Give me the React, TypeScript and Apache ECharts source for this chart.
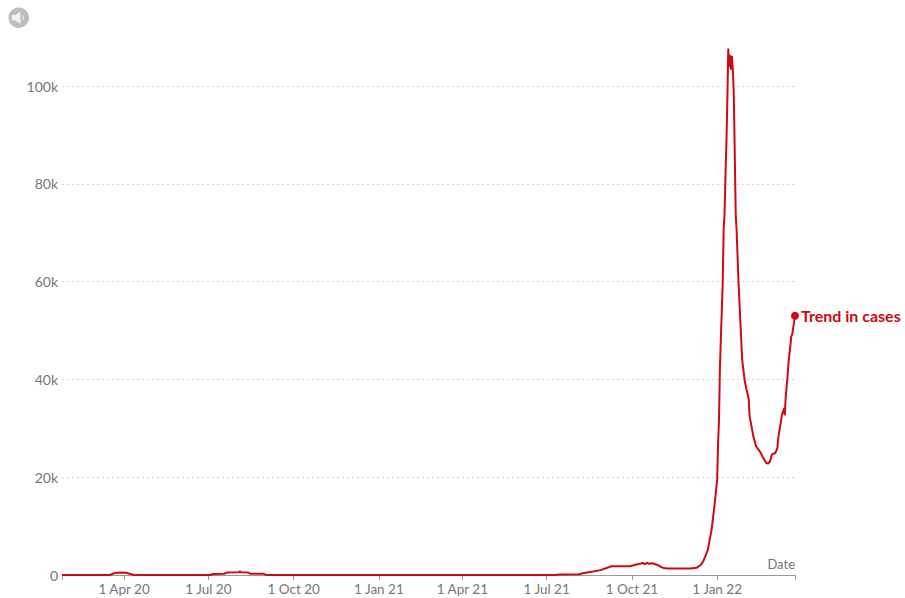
import React, { useEffect, useRef } from "react";
import * as echarts from "echarts";

const caseDates = [
  "2020-01-25", "2020-03-17", "2020-03-20", "2020-03-27", "2020-04-03", "2020-04-07", "2020-04-12",
  "2020-07-03", "2020-07-06", "2020-07-18", "2020-07-21", "2020-08-03", "2020-08-04", "2020-08-05",
  "2020-08-13", "2020-08-15", "2020-08-30", "2020-09-01",
  "2021-07-10", "2021-07-15", "2021-08-05", "2021-08-09", "2021-08-20", "2021-08-28", "2021-09-09", "2021-09-29",
  "2021-10-05", "2021-10-13", "2021-10-15", "2021-10-17", "2021-10-20", "2021-10-23", "2021-10-28",
  "2021-11-03", "2021-11-08", "2021-12-03", "2021-12-10", "2021-12-14", "2021-12-17", "2021-12-19",
  "2021-12-22", "2021-12-26", "2021-12-29",
  "2022-01-01", "2022-01-02", "2022-01-03", "2022-01-04", "2022-01-07", "2022-01-08", "2022-01-09",
  "2022-01-10", "2022-01-11", "2022-01-12", "2022-01-13", "2022-01-14", "2022-01-15", "2022-01-16",
  "2022-01-17", "2022-01-18", "2022-01-19", "2022-01-20", "2022-01-21", "2022-01-22", "2022-01-24",
  "2022-01-28", "2022-01-31", "2022-02-04", "2022-02-05", "2022-02-09", "2022-02-12", "2022-02-16",
  "2022-02-19", "2022-02-23", "2022-02-25", "2022-02-27", "2022-03-01", "2022-03-05", "2022-03-07",
  "2022-03-08", "2022-03-12", "2022-03-14", "2022-03-15", "2022-03-16", "2022-03-18", "2022-03-19",
  "2022-03-22", "2022-03-23", "2022-03-26",
];

const caseValues = [
  0, 0, 300, 500, 450, 250, 0,
  0, 200, 250, 500, 550, 750, 550,
  500, 250, 250, 0,
  0, 100, 150, 350, 700, 1000, 1800, 1800,
  2100, 2450, 2200, 2500, 2300, 2400, 2100,
  1500, 1350, 1350, 1500, 2000, 2800, 3700,
  5200, 9300, 14000,
  19500, 27000, 31800, 42600, 59800, 70700, 74000,
  82000, 88400, 97200, 107500, 104000, 106200, 103500,
  106000, 103000, 98000, 86000, 74000, 70500, 60000,
  44000, 39400, 36000, 32500, 28400, 26300, 25300,
  24200, 22900, 22800, 23200, 24600, 25000, 26000,
  28100, 32800, 34000, 32800, 36500, 40700, 43400,
  48800, 49200, 53000,
];

const tickDates = [
  "2020-04-01", "2020-07-01", "2020-10-01", "2021-01-01",
  "2021-04-01", "2021-07-01", "2021-10-01", "2022-01-01",
];
const tickLabels = [
  "1 Apr 20", "1 Jul 20", "1 Oct 20", "1 Jan 21",
  "1 Apr 21", "1 Jul 21", "1 Oct 21", "1 Jan 22",
];
const yTickLabels: Record<number, string> = {
  0: "0", 20000: "20k", 40000: "40k", 60000: "60k", 80000: "80k", 100000: "100k",
};

const seriesName = "Trend in cases";
const axisStart = "2020-01-25";
const axisEnd = "2022-03-26";

const FONT = "Lato, 'Noto Sans', sans-serif";
const RED = "#cc0a11";
const GREY_TEXT = "#767676";
const GREY_LINE = "#999999";

const toTime = (d: string) => new Date(d).getTime();

export default function App() {
  const ref = useRef<HTMLDivElement>(null);

  useEffect(() => {
    const chart = echarts.init(ref.current!, undefined, { renderer: "svg" });
    const points = caseDates.map((d, i) => [toTime(d), caseValues[i]]);
    const last = points[points.length - 1];
    const labelTimes = tickDates.map(toTime);

    chart.setOption({
      animation: false,
      textStyle: { fontFamily: FONT },
      grid: { left: 62, right: 110, top: 86, bottom: 23, containLabel: false },
      xAxis: {
        // Timestamps on a linear scale, so the ticks can sit on the quarter starts
        type: "value",
        min: toTime(axisStart),
        max: toTime(axisEnd),
        axisLine: { show: true, lineStyle: { color: GREY_LINE, width: 1 } },
        axisTick: {
          show: true,
          length: 5,
          lineStyle: { color: GREY_LINE, width: 1 },
          customValues: [toTime(axisStart), ...labelTimes, toTime(axisEnd)],
        },
        axisLabel: {
          show: true,
          customValues: labelTimes,
          formatter: (value: number) => tickLabels[labelTimes.indexOf(value)] ?? "",
          color: GREY_TEXT,
          fontFamily: FONT,
          fontSize: 13.5,
          margin: 7,
        },
        splitLine: { show: false },
      },
      yAxis: {
        type: "value",
        min: 0,
        max: 100000,
        interval: 20000,
        axisLine: { show: false },
        axisTick: { show: false },
        axisLabel: {
          formatter: (value: number) => yTickLabels[value] ?? "",
          color: GREY_TEXT,
          fontFamily: FONT,
          fontSize: 14,
          margin: 4,
        },
        splitLine: {
          show: true,
          lineStyle: { color: "#d4d4d4", type: [2, 3], width: 1 },
        },
      },
      series: [
        {
          name: seriesName,
          type: "line",
          data: points,
          symbol: "none",
          clip: false,
          lineStyle: { color: RED, width: 2, join: "round" },
          z: 3,
        },
        {
          name: seriesName,
          type: "scatter",
          data: [last],
          symbol: "circle",
          symbolSize: 8,
          clip: false,
          itemStyle: { color: RED, opacity: 1 },
          label: {
            show: true,
            position: "right",
            distance: 2,
            formatter: seriesName,
            color: RED,
            opacity: 1,
            fontFamily: FONT,
            fontWeight: "bold",
            fontSize: 16,
          },
          z: 4,
        },
      ],
      graphic: [
        {
          type: "text",
          x: 795,
          y: 564,
          style: {
            text: "Date",
            fill: GREY_TEXT,
            font: `13px ${FONT}`,
            textAlign: "right",
            textVerticalAlign: "middle",
          },
        },
        // Sound toggle in the top-left corner
        {
          type: "group",
          children: [
            { type: "circle", shape: { cx: 18.7, cy: 17.7, r: 10.3 }, style: { fill: "#bdbdbd" } },
            {
              type: "polygon",
              shape: {
                points: [
                  [12, 15], [15.5, 15], [20.5, 11.5], [20.5, 24], [15.5, 20.5], [12, 20.5],
                ],
              },
              style: { fill: "#f2f2f2" },
            },
            {
              type: "arc",
              shape: { cx: 20.5, cy: 17.7, r: 3, startAngle: -1.1, endAngle: 1.1 },
              style: { stroke: "#f2f2f2", fill: "none", lineWidth: 1 },
            },
          ],
        },
      ],
    });

    return () => chart.dispose();
  }, []);

  return (
    <div
      ref={ref}
      style={{ position: "fixed", left: 0, top: 0, width: 905, height: 598, background: "#ffffff" }}
    />
  );
}
